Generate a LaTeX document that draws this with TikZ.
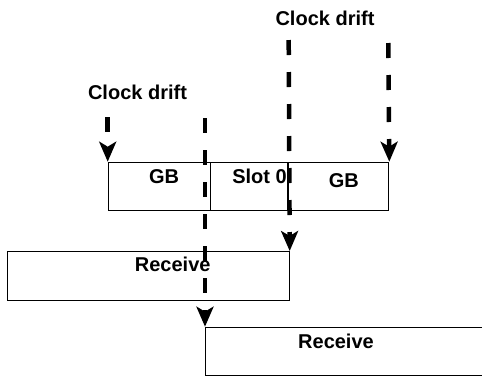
\documentclass[tikz,border=0pt]{standalone}
\usepackage{fontspec}
\setmainfont{Liberation Sans}
\usetikzlibrary{arrows.meta,positioning}

\begin{document}
\begin{tikzpicture}[x=1pt,y=-1pt,
    cell/.style={draw, line width=1pt, inner sep=0pt, anchor=north west},
    lbl/.style={font=\fontsize{20}{24}\selectfont\bfseries, inner sep=0pt},
    drift/.style={line width=4.5pt, dash pattern=on 15pt off 17pt,
      -{Stealth[length=20pt,width=17pt,inset=5pt]}}]
    \useasboundingbox (0,0) rectangle (482,376);
    % frame row: guard band, slot, guard band
    \def\fy{161.7}
    \def\fh{48.3}
    \node[cell, minimum width=102.3pt, minimum height=\fh pt] (gbL) at (107.7,\fy) {};
    \node[cell, minimum width=77.3pt, minimum height=\fh pt, line width=1.3pt] (slot) at (210,\fy) {};
    \node[cell, minimum width=101pt, minimum height=\fh pt] (gbR) at (287.3,\fy) {};
    \node[lbl] (gbLtxt) at (164,176.5) {GB};
    \node[lbl] (slottxt) at (259.5,176.7) {Slot 0};
    \node[lbl] (gbRtxt) at (343.8,180.7) {GB};

    % receive windows
    \def\rh{49}
    \node[cell, minimum width=281.4pt, minimum height=\rh pt] (rx1) at (7.3,251) {};
    \node[cell, minimum width=300pt, minimum height=48.3pt] (rx2) at (205,326.7) {};
    \node[lbl] (rx1txt) at (172.7,264.5) {Receive};
    \node[lbl] (rx2txt) at (336,341) {Receive};

    % clock drift labels
    \node[lbl] (cdL) at (137.5,92) {Clock drift};
    \node[lbl] (cdR) at (325,18) {Clock drift};

    % drift arrows
    \coordinate (d1) at (107.7,117);
    \coordinate (d2) at (388.3,43);
    \coordinate (d3) at (205,118);
    \coordinate (d4) at (288.7,40);
    \draw[drift] (d1) -- (gbL.north west);
    \draw[drift] (d2) -- (gbR.north east);
    \draw[drift] (d3) -- (rx2.north west);
    \draw[drift] (d4) -- (rx1.north east);
\end{tikzpicture}
\end{document}
